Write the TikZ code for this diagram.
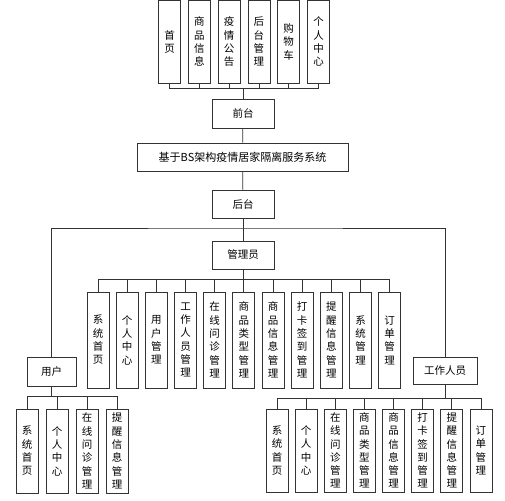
\documentclass[tikz,border=0pt]{standalone}
\usepackage{fontspec}
\newfontfamily\cjk{Noto Sans CJK SC}
\usetikzlibrary{positioning, calc}
\definecolor{cline}{HTML}{333333}
\tikzset{
  every picture/.style={line width=0.8pt},
  box/.style={draw=cline, rectangle, align=center, inner sep=2pt, font=\cjk\fontsize{10.5}{13.3}\selectfont},
  vbox/.style={box, minimum width=22pt, minimum height=#1},
  vbox/.default=96pt,
  link/.style={draw=cline, line width=0.8pt},
}
\begin{document}
\begin{tikzpicture}[x=1pt, y=-1pt]
  \useasboundingbox (0,0) rectangle (505,500);
  % front end
  \foreach \i/\t in {0/{首\\页}, 1/{商\\品\\信\\息}, 2/{疫\\情\\公\\告}, 3/{后\\台\\管\\理}, 4/{购\\物\\车}, 5/{个\\人\\中\\心}} {
    \node[vbox=82.5pt] (top\i) at (169.5+29.8*\i, 41.75) {\t};
  }
  \node[box, minimum width=62pt, minimum height=29pt] (qiantai) at (243,113.5) {前台};
  \node[box, minimum width=211pt, minimum height=28pt, font=\cjk\fontsize{11}{13}\selectfont] (sys) at (242.5,157) {基于BS架构疫情居家隔离服务系统};
  \node[box, minimum width=62pt, minimum height=28pt] (houtai) at (243,204) {后台};
  \coordinate (topbus) at (243,88);
  \foreach \i in {0,...,5} {
    \draw[link] (top\i.south) |- (topbus);
  }
  \draw[link] (topbus) -- (qiantai.north);
  \draw[link] (qiantai) -- (sys);
  \draw[link] (sys) -- (houtai);
  % roles
  \node[box, minimum width=62pt, minimum height=28pt] (admin) at (243,255) {管理员};
  \node[box, minimum width=49pt, minimum height=29pt] (user) at (51.5,371.5) {用户};
  \node[box, minimum width=64pt, minimum height=27pt] (staff) at (445,370.5) {工作人员};
  \coordinate (split) at (243,228);
  \draw[link] (houtai) -- (admin);
  \draw[link] (user.north) |- (split) -| (staff.north);
  % admin functions
  \coordinate (adminbus) at (243,279);
  \foreach \i/\t in {0/{系\\统\\首\\页}, 1/{个\\人\\中\\心}, 2/{用\\户\\管\\理}, 3/{工\\作\\人\\员\\管\\理}, 4/{在\\线\\问\\诊\\管\\理}, 5/{商\\品\\类\\型\\管\\理}, 6/{商\\品\\信\\息\\管\\理}, 7/{打\\卡\\签\\到\\管\\理}, 8/{提\\醒\\信\\息\\管\\理}, 9/{系\\统\\管\\理}, 10/{订\\单\\管\\理}} {
    \node[vbox] (adm\i) at (98+29.17*\i, 340) {\t};
    \draw[link] (adm\i.north) |- (adminbus);
  }
  \draw[link] (admin.south) -- (adminbus);
  % user functions
  \coordinate (userbus) at (51.5,396);
  \foreach \i/\t in {0/{系\\统\\首\\页}, 1/{个\\人\\中\\心}, 2/{在\\线\\问\\诊\\管\\理}, 3/{提\\醒\\信\\息\\管\\理}} {
    \node[vbox=84pt] (usr\i) at (27+30*\i, 451) {\t};
    \draw[link] (usr\i.north) |- (userbus);
  }
  \draw[link] (user.south) -- (userbus);
  % staff functions
  \coordinate (staffbus) at (445,398);
  \foreach \i/\t in {0/{系\\统\\首\\页}, 1/{个\\人\\中\\心}, 2/{在\\线\\问\\诊\\管\\理}, 3/{商\\品\\类\\型\\管\\理}, 4/{商\\品\\信\\息\\管\\理}, 5/{打\\卡\\签\\到\\管\\理}, 6/{提\\醒\\信\\息\\管\\理}, 7/{订\\单\\管\\理}} {
    \node[vbox=83pt] (stf\i) at (277+29.14*\i, 450.5) {\t};
    \draw[link] (stf\i.north) |- (staffbus);
  }
  \draw[link] (staff.south) -- (staffbus);
\end{tikzpicture}
\end{document}
